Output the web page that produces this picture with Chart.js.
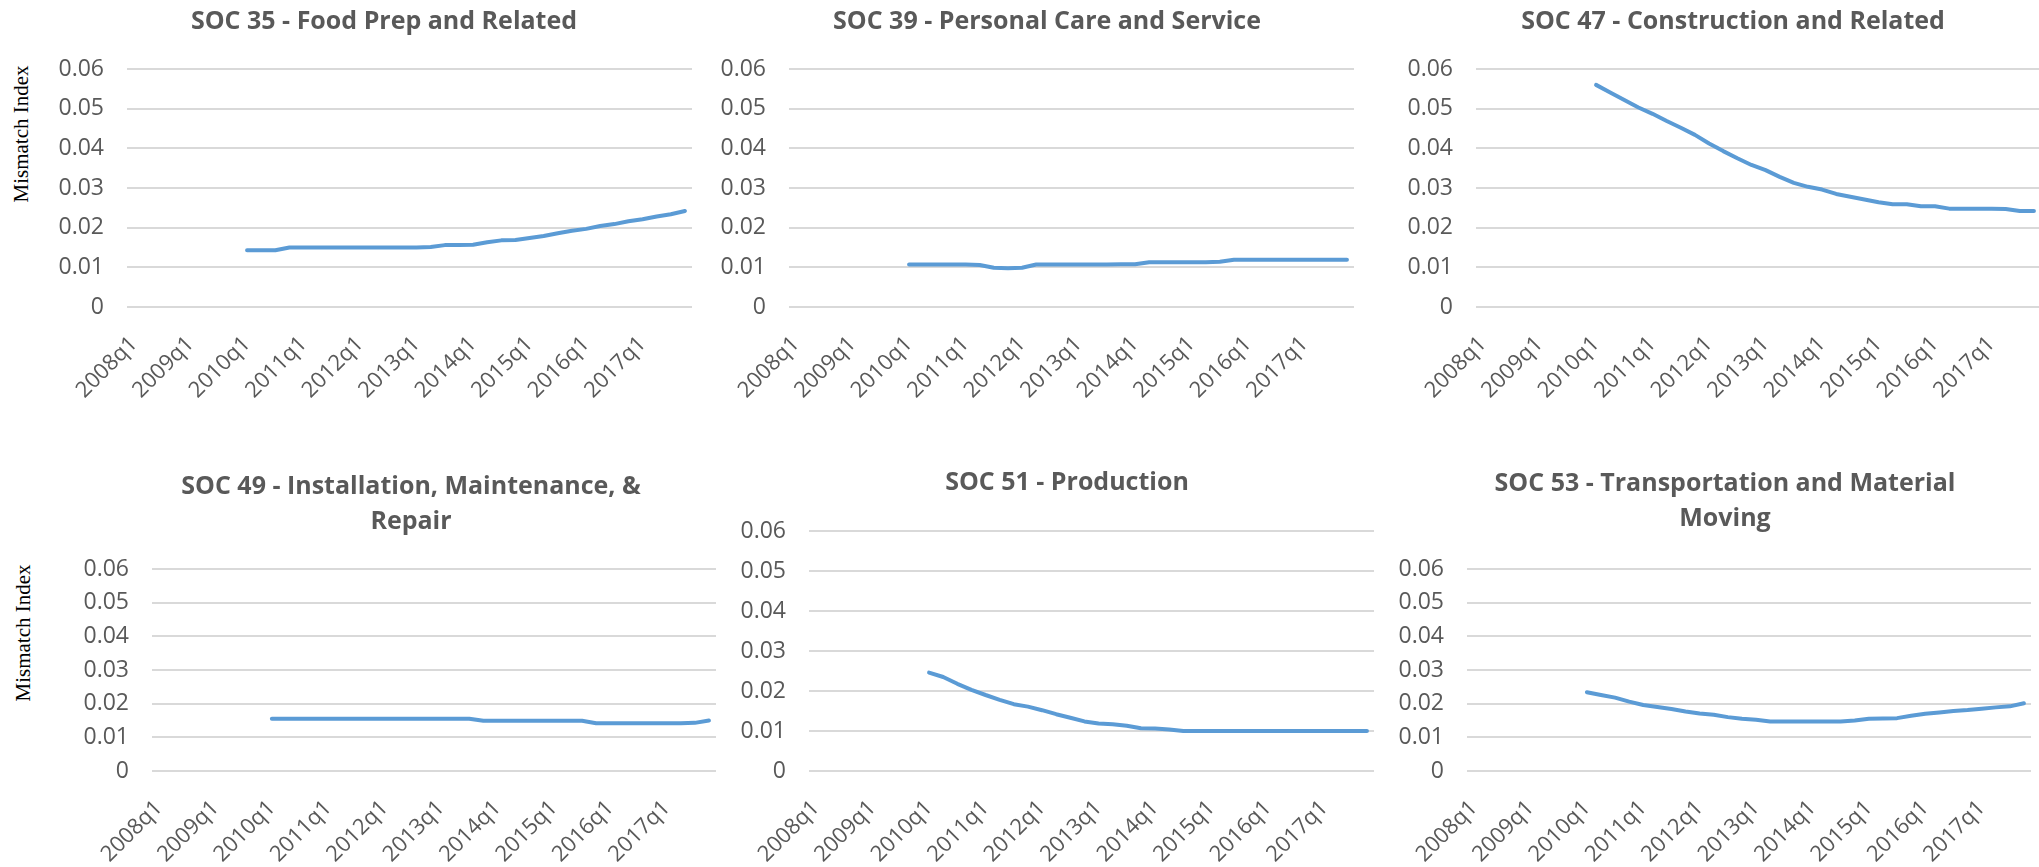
<!DOCTYPE html>
<html><head><meta charset="utf-8">
<script src="https://cdn.jsdelivr.net/npm/chart.js"></script>
<style>
html,body{margin:0;padding:0;background:#fff;overflow:hidden;width:2039px;height:867px;}
canvas{position:absolute;}
.ytitle{position:absolute;font-family:"Liberation Serif","Times New Roman",serif;font-size:21px;color:#000;transform:translate(-50%,-50%) rotate(-90deg);white-space:nowrap;}
</style></head><body>
<div class="ytitle" style="left:21px;top:134px">Mismatch Index</div>
<div class="ytitle" style="left:23px;top:633px">Mismatch Index</div>
<script>
// ---- data ----
const quarters = [
 '2008q1','2008q2','2008q3','2008q4','2009q1','2009q2','2009q3','2009q4',
 '2010q1','2010q2','2010q3','2010q4','2011q1','2011q2','2011q3','2011q4',
 '2012q1','2012q2','2012q3','2012q4','2013q1','2013q2','2013q3','2013q4',
 '2014q1','2014q2','2014q3','2014q4','2015q1','2015q2','2015q3','2015q4',
 '2016q1','2016q2','2016q3','2016q4','2017q1','2017q2','2017q3','2017q4'];
const shownTicks = ['2008q1','2009q1','2010q1','2011q1','2012q1','2013q1','2014q1','2015q1','2016q1','2017q1'];
const yTicks = [0, 0.01, 0.02, 0.03, 0.04, 0.05, 0.06];

const soc35 = [null,null,null,null,null,null,null,null,
 .0143,.0143,.0143,.0150, .0150,.0150,.0150,.0150, .0150,.0150,.0150,.0150,
 .0150,.0151,.0156,.0156, .0157,.0163,.0168,.0169, .0174,.0179,.0186,.0192,
 .0197,.0204,.0209,.0216, .0221,.0228,.0234,.0242];
const soc39 = [null,null,null,null,null,null,null,null,
 .0107,.0107,.0107,.0107, .0107,.0106,.0099,.0098, .0099,.0107,.0107,.0107,
 .0107,.0107,.0107,.0108, .0108,.0113,.0113,.0113, .0113,.0113,.0114,.0119,
 .0119,.0119,.0119,.0119, .0119,.0119,.0119,.0119];
const soc47 = [null,null,null,null,null,null,null,null,
 .0560,.0541,.0522,.0503, .0487,.0469,.0452,.0434, .0412,.0393,.0375,.0358,
 .0345,.0328,.0313,.0303, .0296,.0285,.0278,.0271, .0264,.0259,.0259,.0254,
 .0254,.0248,.0248,.0248, .0248,.0247,.0242,.0242];
const soc49 = [null,null,null,null,null,null,null,null,
 .0155,.0155,.0155,.0155, .0155,.0155,.0155,.0155, .0155,.0155,.0155,.0155,
 .0155,.0155,.0155,.0149, .0149,.0149,.0149,.0149, .0149,.0149,.0149,.0142,
 .0142,.0142,.0142,.0142, .0142,.0142,.0143,.0150];
const soc51 = [null,null,null,null,null,null,null,null,
 .0246,.0235,.0218,.0203, .0190,.0178,.0167,.0161, .0152,.0142,.0133,.0124,
 .0119,.0117,.0113,.0107, .0106,.0104,.0100,.0100, .0100,.0100,.0100,.0100,
 .0100,.0100,.0100,.0100, .0100,.0100,.0100,.0100];
const soc53 = [null,null,null,null,null,null,null,null,
 .0234,.0226,.0218,.0206, .0196,.0190,.0184,.0177, .0171,.0167,.0160,.0155,
 .0152,.0147,.0147,.0147, .0147,.0147,.0147,.0150, .0155,.0156,.0157,.0164,
 .0170,.0174,.0178,.0181, .0185,.0189,.0192,.0201];

const titles = [
 ['SOC 35 - Food Prep and Related'],
 ['SOC 39 - Personal Care and Service'],
 ['SOC 47 - Construction and Related'],
 ['SOC 49 - Installation, Maintenance, &','Repair'],
 ['SOC 51 - Production'],
 ['SOC 53 - Transportation and Material','Moving']];
const series = [soc35, soc39, soc47, soc49, soc51, soc53];

// ---- layout (pixel frame of each panel) ----
const layout = [
 {plotL:127, plotR:692,  top:0,   plotTop:69,  plotBottom:307, titleX:384,  titleY:22,  xh:100},
 {plotL:789, plotR:1354, top:0,   plotTop:69,  plotBottom:307, titleX:1047, titleY:22,  xh:100},
 {plotL:1476,plotR:2041, top:0,   plotTop:69,  plotBottom:307, titleX:1733, titleY:22,  xh:100},
 {plotL:152, plotR:716,  top:440, plotTop:569, plotBottom:771, titleX:411,  titleY:487, xh:96},
 {plotL:809, plotR:1374, top:440, plotTop:531, plotBottom:771, titleX:1067, titleY:483, xh:96},
 {plotL:1467,plotR:2031, top:440, plotTop:569, plotBottom:771, titleX:1725, titleY:484, xh:96}];

const TEXT = '#595959';
const FONT = '"Open Sans", Roboto, sans-serif';
const TITLE_SIZE = 25, TITLE_LH = 35;

// centre the title over a given x (Excel centres it over the whole chart object)
const titleShift = {
  id: 'titleShift',
  afterLayout(chart, args, opts) {
    const t = chart.titleBlock;
    if (!t || opts.cx == null) return;
    const d = opts.cx - (t.left + t.right) / 2;
    t.left += d; t.right += d;
  }
};

series.forEach((data, k) => {
  const p = layout[k];
  const L = p.plotL - 90;
  const W = p.plotR - L;
  const pl = 4;
  const yw = p.plotL - L - pl;
  const n = titles[k].length;
  const pt = p.titleY - p.top - TITLE_LH / 2;
  const pb = p.plotTop - p.top - pt - TITLE_LH * n;
  const H = p.plotBottom + p.xh - p.top;
  const c = document.createElement('canvas');
  c.width = W; c.height = H;
  c.style.left = L + 'px'; c.style.top = p.top + 'px';
  c.style.width = W + 'px'; c.style.height = H + 'px';
  document.body.appendChild(c);
  new Chart(c, {
    type: 'line',
    data: { labels: quarters, datasets: [{
      data: data, borderColor: '#5b9bd5', borderWidth: 4, pointRadius: 0,
      tension: 0, fill: false, borderCapStyle: 'round', borderJoinStyle: 'round', spanGaps: false }] },
    plugins: [titleShift],
    options: {
      responsive: false, animation: false, devicePixelRatio: 1,
      layout: { padding: { left: pl, right: 0, top: 0, bottom: 0 } },
      plugins: {
        legend: { display: false }, tooltip: { enabled: false },
        titleShift: { cx: p.titleX - L },
        title: { display: true, text: titles[k], color: TEXT,
          font: { family: FONT, size: TITLE_SIZE, weight: 'bold', lineHeight: TITLE_LH / TITLE_SIZE },
          padding: { top: pt, bottom: pb } }
      },
      scales: {
        x: { type: 'category', offset: true,
          grid: { display: false, drawTicks: false }, border: { display: false },
          ticks: { autoSkip: false, minRotation: 45, maxRotation: 45, padding: 24, color: TEXT,
            font: { family: FONT, size: 22 },
            callback: function(v, i) { const l = quarters[i]; return shownTicks.includes(l) ? l : null; } },
          afterFit: s => { s.height = p.xh; } },
        y: { min: yTicks[0], max: yTicks[yTicks.length - 1],
          afterBuildTicks: s => { s.ticks = yTicks.map(v => ({ value: v })); },
          grid: { color: '#d9d9d9', lineWidth: 2, drawTicks: false }, border: { display: false },
          ticks: { padding: 23, color: TEXT, font: { family: FONT, size: 23 },
            callback: v => v === 0 ? '0' : v.toFixed(2) },
          afterFit: s => { s.width = yw; } }
      }
    }
  });
});
</script>
</body></html>
